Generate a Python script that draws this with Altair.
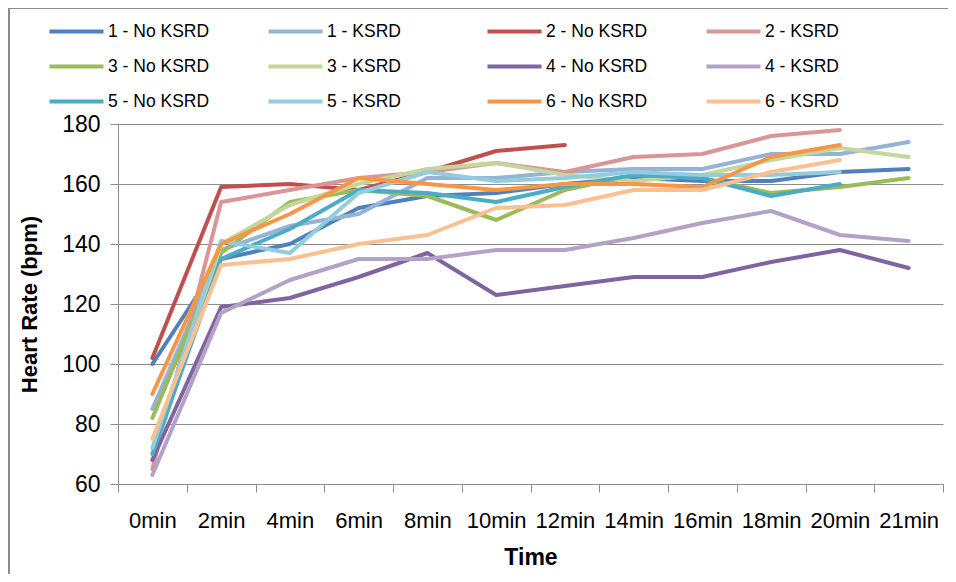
import altair as alt
import pandas as pd

times = ["0min", "2min", "4min", "6min", "8min", "10min", "12min",
         "14min", "16min", "18min", "20min", "21min"]

names = ["1 - No KSRD", "1 - KSRD", "2 - No KSRD", "2 - KSRD",
         "3 - No KSRD", "3 - KSRD", "4 - No KSRD", "4 - KSRD",
         "5 - No KSRD", "5 - KSRD", "6 - No KSRD", "6 - KSRD"]

colors = ["#4F81BD", "#95B3D7", "#C0504D", "#D99694",
          "#9BBB59", "#C3D69B", "#8064A2", "#B3A2C7",
          "#4BACC6", "#93CDDD", "#F79646", "#FAC090"]

s1_no = [100, 135, 140, 152, 156, 157, 160, 162, 161, 161, 164, 165]
s1_k = [85, 138, 146, 150, 162, 162, 164, 165, 165, 170, 170, 174]
s2_no = [102, 159, 160, 158, 164, 171, 173, None, None, None, None, None]
s2_k = [65, 154, 158, 162, 164, 167, 164, 169, 170, 176, 178, None]
s3_no = [82, 137, 154, 158, 156, 148, 158, 163, 162, 157, 159, 162]
s3_k = [68, 140, 153, 160, 165, 167, 163, 161, 163, 168, 172, 169]
s4_no = [68, 119, 122, 129, 137, 123, 126, 129, 129, 134, 138, 132]
s4_k = [63, 117, 128, 135, 135, 138, 138, 142, 147, 151, 143, 141]
s5_no = [70, 135, 145, 158, 157, 154, 159, 163, 162, 156, 160, None]
s5_k = [72, 141, 137, 157, 164, 161, 162, 164, 163, 163, 164, None]
s6_no = [90, 140, 150, 162, 160, 158, 160, 160, 159, 169, 173, None]
s6_k = [75, 133, 135, 140, 143, 152, 153, 158, 158, 164, 168, None]

series = [s1_no, s1_k, s2_no, s2_k, s3_no, s3_k,
          s4_no, s4_k, s5_no, s5_k, s6_no, s6_k]

rows = []
for i, (nm, vals) in enumerate(zip(names, series)):
    for t, v in zip(times, vals):
        if v is not None:
            rows.append({"Series": nm, "Time": t, "HR": v, "idx": i})
df = pd.DataFrame(rows)

FONT = "Liberation Sans, Arial, sans-serif"
GRID = "#8C8C8C"

lines = alt.Chart(df).mark_line(
    strokeWidth=4, strokeCap="round", strokeJoin="round"
).encode(
    x=alt.X("Time:N", sort=times, title="Time",
            scale=alt.Scale(type="band", paddingInner=0, paddingOuter=0),
            axis=alt.Axis(grid=False, tickBand="extent", labelAngle=0,
                          tickSize=8, tickColor=GRID, domainColor=GRID,
                          labelFont=FONT, labelFontSize=22, labelColor="#000",
                          labelPadding=18, titleFont=FONT, titleFontSize=23,
                          titleFontWeight="bold", titleColor="#000",
                          titlePadding=15)),
    y=alt.Y("HR:Q", title="Heart Rate (bpm)",
            scale=alt.Scale(domain=[60, 180], nice=False, zero=False),
            axis=alt.Axis(values=[60, 80, 100, 120, 140, 160, 180],
                          grid=True, gridColor=GRID, tickSize=8,
                          tickColor=GRID, domainColor=GRID,
                          labelFont=FONT, labelFontSize=23, labelColor="#000",
                          labelPadding=10, titleFont=FONT, titleFontSize=22,
                          titleFontWeight="bold", titleColor="#000",
                          titlePadding=20)),
    color=alt.Color("Series:N", sort=names,
                    scale=alt.Scale(domain=names, range=colors),
                    legend=alt.Legend(orient="none", legendX=-57, legendY=-108,
                                      direction="horizontal", columns=4,
                                      gridAlign="all", columnPadding=50,
                                      rowPadding=11, title=None,
                                      symbolType="M-2,0H2", symbolSize=729,
                                      symbolStrokeWidth=4,
                                      labelFont=FONT, labelFontSize=17.5,
                                      labelColor="#000", labelOffset=16)),
    detail="Series:N",
    order="idx:Q",
)

frame = alt.Chart(pd.DataFrame({"a": [0]})).mark_rect(
    fillOpacity=0, stroke="#8C8C8C", strokeWidth=2
).encode(x=alt.value(-109), x2=alt.value(900), y=alt.value(-116), y2=alt.value(500))

chart = alt.layer(frame, lines).properties(
    width=825, height=360,
    padding={"left": 110, "top": 116, "right": 5, "bottom": 90},
    autosize=alt.AutoSizeParams(type="none"),
).configure_view(stroke=None)

chart.save("out.html", embed_options={"renderer": "svg", "actions": False})
